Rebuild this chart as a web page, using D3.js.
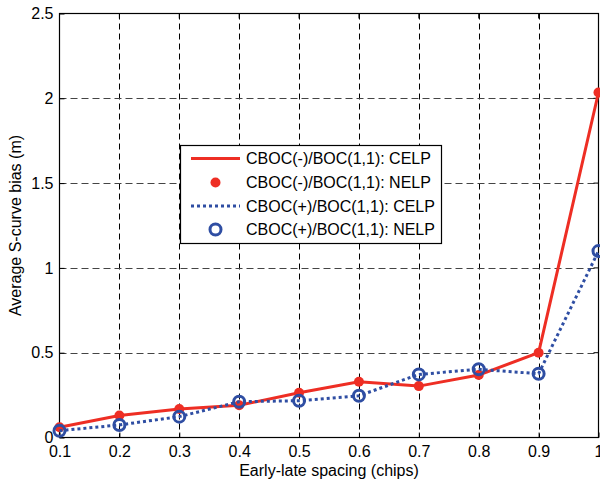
<!DOCTYPE html>
<html><head><meta charset="utf-8">
<script src="https://cdn.jsdelivr.net/npm/d3@7"></script>
<style>body{margin:0;background:#fff;} svg{display:block;font-family:"Liberation Sans",Arial,sans-serif;}</style>
</head><body>
<svg id="c" width="600" height="485"></svg>
<script>
const spacing = [0.1,0.2,0.3,0.4,0.5,0.6,0.7,0.8,0.9,1.0];
const cbocMinus = [0.06,0.13,0.168,0.19,0.264,0.329,0.303,0.368,0.50,2.034];
const cbocPlus  = [0.04,0.074,0.123,0.211,0.217,0.246,0.372,0.402,0.376,1.099];
const xTicks = [0.1,0.2,0.3,0.4,0.5,0.6,0.7,0.8,0.9,1];
const yTicks = [0,0.5,1,1.5,2,2.5];
const legendLabels = ["CBOC(-)/BOC(1,1): CELP","CBOC(-)/BOC(1,1): NELP","CBOC(+)/BOC(1,1): CELP","CBOC(+)/BOC(1,1): NELP"];
const red = "#ee2e24", blue = "#2f4ea3";

const svg = d3.select("#c");
const L = 59.5, R = 598.5, T = 13.5, B = 437.5;
const x = d3.scaleLinear().domain([0.1,1]).range([L,R]);
const y = d3.scaleLinear().domain([0,2.5]).range([B,T]);
const FS = 16;

// grid
const g = svg.append("g");
g.selectAll(".vg").data(xTicks.slice(1,-1)).enter().append("line")
  .attr("x1",d=>Math.round(x(d))+0.5).attr("x2",d=>Math.round(x(d))+0.5)
  .attr("y1",T).attr("y2",B).attr("stroke","#000").attr("stroke-width",1).attr("stroke-dasharray","6,4");
g.selectAll(".hg").data(yTicks.slice(1,-1)).enter().append("line")
  .attr("y1",d=>Math.round(y(d))+0.5).attr("y2",d=>Math.round(y(d))+0.5)
  .attr("x1",L).attr("x2",R).attr("stroke","#444").attr("stroke-width",1).attr("stroke-dasharray","7,4");

// axes
const ax = svg.append("g").attr("transform",`translate(0,${B})`)
  .call(d3.axisBottom(x).tickValues(xTicks).tickSize(-5).tickPadding(8).tickFormat(d=>d===1?"1":d3.format(".1f")(d)));
const ay = svg.append("g").attr("transform",`translate(${L},0)`)
  .call(d3.axisLeft(y).tickValues(yTicks).tickSize(-5).tickPadding(6).tickFormat(d=>d===0?"0":d3.format("")(d)));
[ax,ay].forEach(a=>{a.select(".domain").remove();a.selectAll("text").attr("font-size",FS).attr("fill","#000").attr("font-family","Liberation Sans, Arial, sans-serif");a.selectAll("line").attr("stroke","#000");});
// top/right ticks
svg.append("g").selectAll("line").data(xTicks).enter().append("line")
  .attr("x1",d=>x(d)).attr("x2",d=>x(d)).attr("y1",T).attr("y2",T+5).attr("stroke","#000");
svg.append("g").selectAll("line").data(yTicks).enter().append("line")
  .attr("y1",d=>y(d)).attr("y2",d=>y(d)).attr("x1",R).attr("x2",R-5).attr("stroke","#000");
svg.append("rect").attr("x",L).attr("y",T).attr("width",R-L).attr("height",B-T)
  .attr("fill","none").attr("stroke","#000").attr("stroke-width",1.2);

// series
const line = d3.line().x((d,i)=>x(spacing[i])).y(d=>y(d));
svg.append("path").datum(cbocMinus).attr("d",line).attr("fill","none").attr("stroke",red).attr("stroke-width",3);
svg.append("g").selectAll("circle").data(cbocMinus).enter().append("circle")
  .attr("cx",(d,i)=>x(spacing[i])).attr("cy",d=>y(d)).attr("r",5).attr("fill",red);
svg.append("path").datum(cbocPlus).attr("d",line).attr("fill","none").attr("stroke",blue).attr("stroke-width",3).attr("stroke-dasharray","3,3");
svg.append("g").selectAll("circle").data(cbocPlus).enter().append("circle")
  .attr("cx",(d,i)=>x(spacing[i])).attr("cy",d=>y(d)).attr("r",5.5).attr("fill","none").attr("stroke",blue).attr("stroke-width",3);

// labels
svg.append("text").attr("x",(L+R)/2).attr("y",476).attr("text-anchor","middle").attr("font-size",FS).text("Early-late spacing (chips)");
svg.append("text").attr("transform",`translate(21,${(T+B)/2}) rotate(-90)`).attr("text-anchor","middle").attr("font-size",FS).text("Average S-curve bias (m)");

// legend
const lg = svg.append("g");
lg.append("rect").attr("x",180.5).attr("y",145.5).attr("width",261).attr("height",98).attr("fill","#fff").attr("stroke","#000").attr("stroke-width",1.2);
const rowY = [158.5,182.5,206,229.5];
legendLabels.forEach((t,i)=>{
  lg.append("text").attr("x",246).attr("y",rowY[i]).attr("dy","0.35em").attr("font-size",FS).text(t);
});
lg.append("line").attr("x1",191).attr("x2",240).attr("y1",rowY[0]).attr("y2",rowY[0]).attr("stroke",red).attr("stroke-width",3);
lg.append("circle").attr("cx",215.5).attr("cy",rowY[1]).attr("r",5).attr("fill",red);
lg.append("line").attr("x1",191).attr("x2",240).attr("y1",rowY[2]).attr("y2",rowY[2]).attr("stroke",blue).attr("stroke-width",3).attr("stroke-dasharray","3,3");
lg.append("circle").attr("cx",215.5).attr("cy",rowY[3]).attr("r",5.5).attr("fill","none").attr("stroke",blue).attr("stroke-width",3);
</script>
</body></html>
